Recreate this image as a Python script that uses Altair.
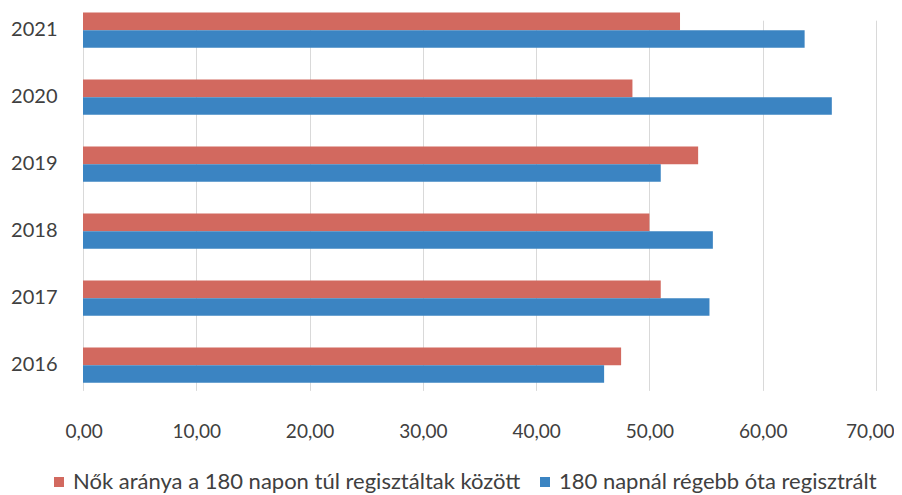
import altair as alt
import pandas as pd

years = ["2021", "2020", "2019", "2018", "2017", "2016"]
series = ["Nők aránya a 180 napon túl regisztáltak között", "180 napnál régebb óta regisztrált"]
red_values = [52.7, 48.5, 54.3, 50.0, 51.0, 47.5]
blue_values = [63.7, 66.1, 51.0, 55.6, 55.3, 46.0]
x_ticks = [0, 10, 20, 30, 40, 50, 60, 70]
colors = ["#d2695f", "#3b84c2"]

rows = []
for y, r, b in zip(years, red_values, blue_values):
    rows.append({"year": y, "series": series[0], "value": r})
    rows.append({"year": y, "series": series[1], "value": b})
df = pd.DataFrame(rows)

FONT = "Lato"

chart = alt.Chart(df).mark_bar().encode(
    y=alt.Y("year:N", sort=years,
            scale=alt.Scale(range=[4.6, 374.8], paddingInner=0.475, paddingOuter=0),
            axis=alt.Axis(title=None, domain=False, ticks=False, labelPadding=26,
                          labelFontSize=20, labelColor="#404040", labelFont=FONT)),
    yOffset=alt.YOffset("series:N", sort=series),
    x=alt.X("value:Q", scale=alt.Scale(domain=[0, 70], nice=False),
            axis=alt.Axis(title=None, values=x_ticks, domain=False, ticks=False,
                          labelExpr="replace(format(datum.value, '.2f'), '.', ',')",
                          labelFlush=True, labelFlushOffset=18,
                          labelPadding=27, labelFontSize=19, labelColor="#404040",
                          labelFont=FONT, gridColor="#d9d9d9", gridWidth=1)),
    color=alt.Color("series:N", sort=series,
                    scale=alt.Scale(domain=series, range=colors),
                    legend=alt.Legend(title=None, orient="none", direction="horizontal",
                                      legendX=-35, legendY=463, symbolType="square",
                                      symbolSize=100, symbolStrokeWidth=0, labelFontSize=22,
                                      labelFont=FONT, labelColor="#404040", labelLimit=600,
                                      columnPadding=13, symbolOffset=0, labelOffset=3)),
).properties(
    width=793,
    height=387,
    autosize=alt.AutoSizeParams(type="none"),
    padding={"left": 75, "top": 0, "right": 18, "bottom": 98},
).configure_view(stroke=None)

chart.save("out.html", embed_options={"renderer": "svg", "actions": False})
